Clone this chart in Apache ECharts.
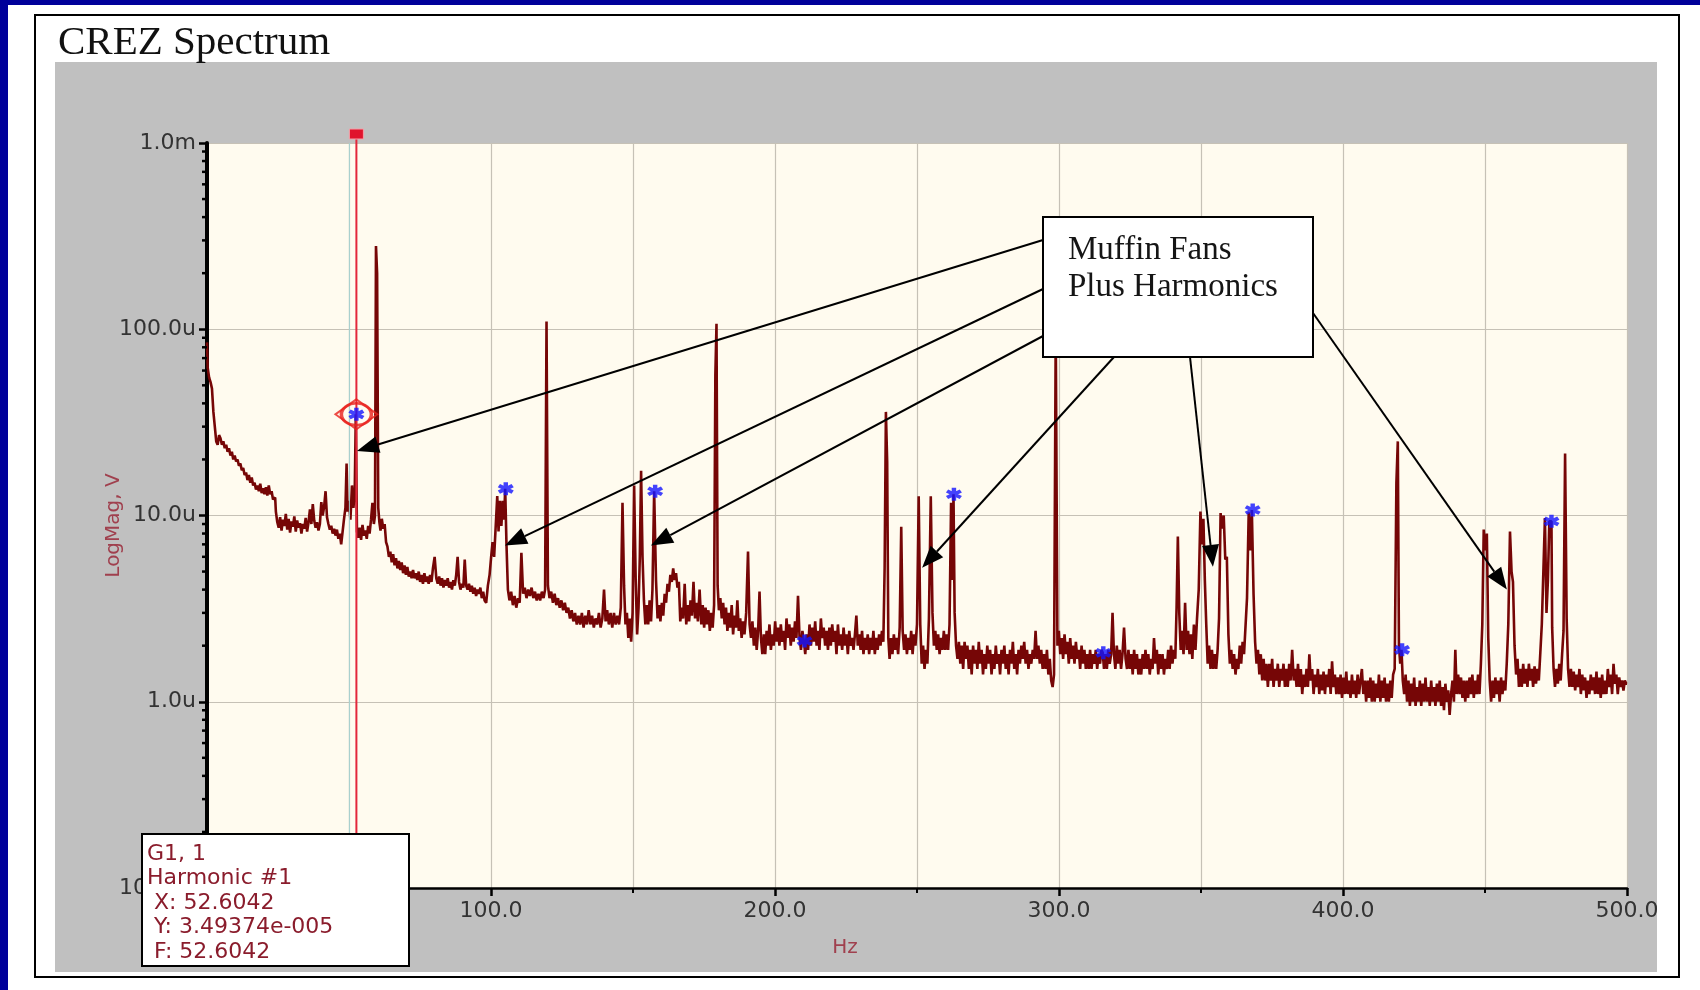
<!DOCTYPE html>
<html>
<head>
<meta charset="utf-8">
<script src="https://cdn.jsdelivr.net/npm/echarts@6/dist/echarts.min.js"></script>
<style>
  html, body { margin: 0; padding: 0; background: #ffffff; }
  #chart { width: 1700px; height: 990px; }
</style>
</head>
<body>
<div id="chart"></div>
<script>
// Spectrum samples: [frequency in Hz, magnitude in µV]
const spectrum = [
  [0,85],[0.5,62],[1,55],[1.5,52],[2,48],[2.5,36],[3,30],[3.5,25],[4,24],[4.5,27],[5,26],[5.5,24],[6,25],[6.5,23],[7,24],[7.5,22],[8,23],[8.5,21],[9,22],[9.5,20],
  [10,21],[10.5,19.5],[11,20],[11.5,18.5],[12,19],[12.5,17.5],[13,18],[13.5,16.5],[14,17],[14.5,15.5],[15,16.5],[15.5,15],[16,16],[16.5,14.5],[17,15],[17.5,13.8],[18,14.5],[18.5,13.5],[19,14.8],[19.5,13.2],
  [20,14],[20.5,13],[21,14.2],[21.5,12.8],[22,14.5],[22.5,13],[23,13.5],[23.5,12.2],[24,12.5],[24.5,10.5],[25,9.2],
  [25.5,8.6],[26,9.8],[26.5,8.3],[27,9.5],[27.5,8.8],[28,10.2],[28.5,8.4],[29,9.6],[29.5,8.1],[30,9.3],[30.5,8.7],[31,9.9],[31.5,8.2],[32,9.4],[32.5,8.6],[33,9.1],[33.5,8.0],[34,9.0],[34.5,8.5],[35,9.7],
  [35.5,8.2],[36,9.2],[36.5,10.8],[37,9.0],[37.5,11.5],[38,9.4],[38.5,8.6],[39,9.2],[39.5,8.3],[40,9.0],[40.5,11.8],[41,10.0],[41.5,11.2],[42,13.5],[42.5,9.8],[43,9.0],[43.5,8.4],[44,8.8],[44.5,8.0],[45,8.5],
  [45.5,7.8],[46,8.4],[46.5,7.5],[47,8.0],[47.5,7.0],[48,8.2],[48.5,9.6],[49,11],[49.3,19],[49.7,10.5],[50.2,12],[50.8,9.5],[51.3,14.5],[51.8,11],[52.2,13],[52.6042,34.9374],
  [53,8.2],[53.5,7.6],[54,8.6],[54.5,7.4],[55,8.9],[55.5,7.8],[56,8.3],[56.5,7.5],[57,8.8],[57.5,8.0],[58,9.5],[58.5,11.7],[59,9.0],[59.3,10],[59.7,280],[60.1,200],[60.5,11],
  [60.9,9.2],[61.3,8.3],[61.8,9.6],[62.3,8.5],[62.8,9.0],[63.3,7.2],[63.8,6.8],[64.3,6.0],[64.8,6.4],[65.3,5.6],[65.8,6.2],[66.3,5.4],[66.8,5.9],[67.3,5.2],[67.8,5.7],[68.3,5.1],[68.8,5.6],[69.3,4.9],[69.8,5.4],
  [70.3,4.8],[70.8,5.3],[71.3,4.7],[71.8,5.0],[72.3,4.6],[72.8,5.1],[73.3,4.6],[73.8,4.9],[74.3,4.5],[74.8,5.0],[75.3,4.4],[75.8,4.8],[76.3,4.3],[76.8,4.9],[77.3,4.4],[77.8,4.7],[78.3,4.3],[78.8,4.8],[79.3,4.4],[79.8,5.2],
  [80.5,6.0],[81,4.6],[81.5,4.3],[82,4.7],[82.5,4.2],[83,4.6],[83.5,4.1],[84,4.5],[84.5,4.2],[85,4.6],[85.5,4.1],[86,4.4],[86.5,4.0],[87,4.5],[87.5,4.2],[88,4.8],[88.5,6.0],[89,4.4],[89.5,4.0],[90,4.3],
  [90.5,4.1],[91,5.8],[91.5,4.2],[92,4.0],[92.5,4.3],[93,3.9],[93.5,4.2],[94,3.8],[94.5,4.1],[95,3.7],[95.5,4.0],[96,3.8],[96.5,4.1],[97,3.6],[97.5,3.9],[98,3.5],[98.6,3.4],[99.2,4.2],[99.8,4.8],
  [100.3,6.0],[100.8,7.2],[101.4,6.0],[102,9],[102.4,12.7],[102.9,8.2],[103.4,12.0],[103.9,8.8],[104.4,12.0],[104.8,9.5],[105.2,13.9],[105.7,7.0],[106.2,4.0],[106.8,3.5],[107.4,3.9],[108,3.3],[108.6,3.7],[109.2,3.2],[109.8,3.6],
  [110.4,3.4],[111,6.3],[111.6,3.8],[112.2,4.1],[112.8,3.6],[113.4,4.0],[114,3.7],[114.6,4.1],[115.2,3.6],[115.8,3.9],[116.4,3.5],[117,3.8],[117.6,3.5],[118.2,3.9],[118.8,3.6],[119.3,4.0],[119.8,110],[120.3,4.2],
  [120.9,3.6],[121.5,3.9],[122.1,3.4],[122.7,3.8],[123.3,3.3],[123.9,3.6],[124.5,3.2],[125.1,3.5],[125.7,3.1],[126.3,3.4],[126.9,3.0],[127.5,3.2],[128.1,2.8],[128.7,3.1],[129.3,2.7],[129.9,3.0],
  [130.5,2.6],[131.1,2.9],[131.7,2.6],[132.3,3.0],[132.9,2.5],[133.5,2.9],[134.1,2.6],[134.7,3.1],[135.3,2.6],[135.9,2.9],[136.5,2.5],[137.1,2.8],[137.7,2.6],[138.3,3.0],[138.9,2.5],[139.5,2.8],
  [140.1,4.0],[140.6,2.7],[141.2,3.1],[141.8,2.6],[142.4,3.0],[143,2.5],[143.6,3.0],[144.2,2.6],[144.8,2.9],[145.4,2.6],[146,3.2],[146.6,11.7],[147.1,4.2],[147.6,2.6],[148.1,3.0],[148.6,2.2],[149.1,2.8],[149.6,2.1],
  [150.1,3.0],[150.7,14.5],[151.2,4.5],[151.7,2.3],[152.2,3.2],[152.6,6],[153.1,17.4],[153.6,6.0],[154.1,3.5],[154.6,2.6],[155.1,3.3],[155.6,2.6],[156.1,3.5],[156.6,2.7],[157.1,4.0],[157.8,13.5],[158.4,4.5],[158.9,2.8],[159.4,3.3],[159.9,2.7],
  [160.4,3.4],[160.9,2.9],[161.4,3.8],[161.9,3.4],[162.4,4.3],[162.9,3.9],[163.4,4.8],[163.9,4.4],[164.4,5.2],[164.9,4.5],[165.4,4.9],[165.9,4.1],[166.4,4.4],[166.9,2.7],[167.4,3.2],[167.9,2.8],[168.5,4.3],[169,2.6],[169.5,3.3],
  [170,2.7],[170.5,3.5],[171,2.9],[171.6,4.4],[172.1,2.8],[172.6,3.4],[173.1,2.7],[173.8,4.0],[174.3,2.6],[174.8,3.3],[175.3,2.5],[175.8,3.2],[176.3,2.6],[176.8,3.1],[177.3,2.4],[177.8,3.0],[178.3,2.5],[178.8,3.3],[179.2,57],[179.6,107],
  [180.0,4.2],[180.5,3.1],[181,3.6],[181.5,2.8],[182,3.4],[182.5,2.6],[183,3.2],[183.5,2.4],[184,3.0],[184.5,2.5],[185,3.3],[185.5,2.3],[186,2.9],[186.5,2.5],[187,3.5],[187.5,2.4],[188,2.8],[188.5,2.2],[189,2.7],[189.5,2.3],
  [190.2,3.0],[190.8,6.4],[191.3,2.6],[191.8,2.2],[192.3,2.7],[192.8,2.0],[193.3,2.5],[193.8,1.9],[194.3,2.4],[194.8,3.9],[195.3,2.2],[195.8,1.8],[196.3,2.3],[196.8,1.8],[197.3,2.4],[197.8,2.0],[198.3,2.6],[198.8,1.9],[199.3,2.3],[199.8,2.0],
  [200.3,2.7],[200.8,2.1],[201.3,2.5],[201.8,2.0],[202.3,2.6],[202.8,2.1],[203.3,2.4],[203.8,1.9],[204.3,2.8],[204.8,2.2],[205.3,2.6],[205.8,2.0],[206.3,2.5],[206.8,2.1],[207.3,2.7],[207.8,2.2],[208.4,3.7],[208.9,2.2],[209.4,1.9],[209.9,2.4],
  [210.4,2.12],[210.9,1.8],[211.4,2.3],[211.9,1.9],[212.4,2.6],[212.9,2.0],[213.4,2.5],[213.9,2.1],[214.4,2.7],[214.9,2.0],[215.4,2.4],[215.9,1.9],[216.4,2.8],[216.9,2.2],[217.4,2.5],[217.9,2.0],[218.4,2.4],[218.9,1.9],[219.4,2.5],[219.9,2.0],
  [220.4,2.6],[220.9,2.1],[221.4,2.4],[221.9,1.8],[222.4,2.6],[222.9,2.0],[223.4,2.3],[223.9,1.9],[224.4,2.5],[224.9,2.0],[225.4,2.3],[225.9,1.8],[226.4,2.4],[226.9,2.0],[227.4,2.2],[227.9,1.9],[228.4,2.3],[228.9,2.9],[229.4,2.0],[229.9,2.3],
  [230.4,1.9],[230.9,2.4],[231.4,1.8],[231.9,2.2],[232.4,1.9],[232.9,2.3],[233.4,1.8],[233.9,2.2],[234.4,1.9],[234.9,2.4],[235.4,1.8],[235.9,2.2],[236.4,1.9],[236.9,2.3],[237.4,2.0],[237.9,2.4],[238.4,2.1],[238.8,5.2],[239.3,36],[239.7,19.4],
  [240.1,2.2],[240.6,1.7],[241.1,2.2],[241.6,1.8],[242.1,2.3],[242.6,1.9],[243.1,2.2],[243.6,1.8],[244.2,2.5],[244.7,8.7],[245.2,2.4],[245.7,1.9],[246.2,2.3],[246.7,1.8],[247.2,2.2],[247.7,1.9],[248.2,2.4],[248.7,1.8],[249.2,2.3],[249.7,2.0],
  [250.3,2.6],[250.9,12.7],[251.4,2.6],[251.9,1.6],[252.4,2.0],[252.9,1.5],[253.4,1.9],[253.9,1.6],[254.5,2.8],[255.2,12.7],[255.7,3.0],[256.2,2.0],[256.7,2.4],[257.2,1.9],[257.7,2.3],[258.2,1.8],[258.7,2.2],[259.2,1.9],[259.7,2.4],
  [260.2,1.9],[260.7,2.3],[261.2,1.9],[261.7,2.6],[262.3,11.7],[262.7,4.5],[263.0,13.0],[263.5,3.0],[264,2.0],[264.5,1.7],[265,2.1],[265.5,1.6],[266,2.0],[266.5,1.5],[267,2.1],[267.5,1.7],[268,2.0],[268.5,1.5],[269,1.9],[269.5,1.4],
  [270,2.0],[270.5,1.6],[271,1.9],[271.5,1.5],[272,2.1],[272.5,1.6],[273,1.9],[273.5,1.4],[274,1.8],[274.5,1.5],[275,2.0],[275.5,1.6],[276,1.9],[276.5,1.4],[277,1.8],[277.5,1.5],[278,2.0],[278.5,1.6],[279,1.8],[279.5,1.4],
  [280,1.9],[280.5,1.6],[281,2.0],[281.5,1.5],[282,1.8],[282.5,1.4],[283,1.9],[283.5,1.6],[284,2.1],[284.5,1.5],[285,1.8],[285.5,1.4],[286,1.9],[286.5,1.6],[287,2.0],[287.5,1.7],[288,2.1],[288.5,1.6],[289,1.9],[289.5,1.5],
  [290,1.8],[290.5,1.6],[291,1.9],[291.5,1.7],[292,2.4],[292.5,1.7],[293,2.0],[293.5,1.6],[294,1.9],[294.5,1.5],[295,1.8],[295.5,1.5],[296,1.9],[296.5,1.4],[297,1.7],[297.5,1.3],[298,1.2],[298.5,1.4],[299.2,100],[299.7,2.0],
  [300.2,2.4],[300.7,1.8],[301.2,2.2],[301.7,1.7],[302.2,2.3],[302.7,1.8],[303.2,2.1],[303.7,1.6],[304.2,2.2],[304.7,1.7],[305.2,2.0],[305.7,1.6],[306.2,2.1],[306.7,1.7],[307.2,1.9],[307.7,1.5],[308.2,2.0],[308.7,1.6],[309.2,1.9],[309.7,1.5],
  [310.2,1.8],[310.7,1.5],[311.2,1.9],[311.7,1.5],[312.2,1.8],[312.7,1.6],[313.2,1.9],[313.7,1.5],[314.2,1.8],[314.7,1.6],[315.2,1.9],[315.6,1.83],[316.1,1.5],[316.6,1.8],[317.1,1.5],[317.6,1.9],[318.1,1.6],[318.6,1.8],[319.1,3.0],[319.6,1.8],
  [320.1,1.5],[320.6,2.0],[321.1,1.6],[321.6,1.9],[322.1,1.5],[322.6,1.8],[323.2,2.5],[323.7,1.7],[324.2,1.5],[324.7,1.9],[325.2,1.5],[325.7,1.8],[326.2,1.4],[326.7,1.9],[327.2,1.5],[327.7,1.8],[328.2,1.4],[328.7,1.7],[329.2,1.4],[329.7,1.8],
  [330.2,1.5],[330.7,1.9],[331.2,1.5],[331.7,1.8],[332.2,1.4],[332.7,1.7],[333.2,1.5],[333.7,2.2],[334.2,1.6],[334.7,1.9],[335.2,1.4],[335.7,1.8],[336.2,1.5],[336.7,1.8],[337.2,1.4],[337.7,1.7],[338.2,1.5],[338.7,1.9],[339.2,1.5],[339.7,2.0],
  [340.2,1.6],[340.7,1.9],[341.2,1.7],[341.6,3.2],[342.1,7.7],[342.6,3.0],[343.1,1.9],[343.6,2.4],[344.1,1.8],[344.7,3.4],[345.2,1.9],[345.7,2.4],[346.2,1.8],[346.7,2.3],[347.2,1.7],[347.8,2.6],[348.3,1.9],[348.9,2.8],[349.5,4.0],
  [350.1,10.5],[350.6,7.0],[351.1,9.6],[351.6,4.5],[352.1,2.6],[352.6,1.6],[353.1,2.0],[353.6,1.5],[354.1,1.9],[354.6,1.5],[355.1,1.8],[355.6,1.5],[356.1,1.9],[356.6,2.8],[357.2,10.3],[357.7,8.5],[358.3,10.0],[358.8,5.8],[359.4,6.0],[359.9,2.3],
  [360.4,1.6],[360.9,1.9],[361.4,1.5],[361.9,1.8],[362.4,1.4],[362.9,1.7],[363.4,1.5],[363.9,2.0],[364.4,1.6],[364.9,2.1],[365.4,1.8],[365.9,2.5],[366.5,3.6],[367.1,10.4],[367.6,6.5],[368.2,10.7],[368.8,3.8],[369.3,2.1],[369.8,1.6],
  [370.3,1.9],[370.8,1.4],[371.3,1.8],[371.8,1.3],[372.3,1.7],[372.8,1.3],[373.3,1.6],[373.8,1.2],[374.3,1.6],[374.8,1.3],[375.3,1.7],[375.8,1.2],[376.3,1.5],[376.8,1.3],[377.3,1.6],[377.8,1.2],[378.3,1.5],[378.8,1.3],[379.3,1.6],[379.8,1.2],
  [380.3,1.5],[380.8,1.2],[381.3,1.6],[381.8,1.3],[382.4,1.9],[382.9,1.3],[383.4,1.5],[383.9,1.2],[384.4,1.6],[384.9,1.2],[385.4,1.5],[385.9,1.1],[386.4,1.4],[386.9,1.2],[387.4,1.5],[387.9,1.2],[388.4,1.8],[388.9,1.3],[389.4,1.5],[389.9,1.1],
  [390.4,1.4],[390.9,1.2],[391.4,1.5],[391.9,1.1],[392.4,1.4],[392.9,1.15],[393.4,1.45],[393.9,1.1],[394.4,1.4],[394.9,1.2],[395.4,1.5],[395.9,1.1],[396.4,1.65],[396.9,1.2],[397.4,1.4],[397.9,1.1],[398.4,1.35],[398.9,1.1],[399.4,1.4],[399.9,1.05],
  [400.4,1.35],[400.9,1.1],[401.4,1.45],[401.9,1.1],[402.4,1.3],[402.9,1.05],[403.4,1.4],[403.9,1.1],[404.4,1.3],[404.9,1.05],[405.4,1.4],[405.9,1.1],[406.4,1.3],[406.9,1.5],[407.4,1.1],[407.9,1.3],[408.4,1.0],[408.9,1.3],[409.4,1.05],[409.9,1.35],
  [410.4,1.0],[410.9,1.3],[411.4,1.0],[411.9,1.25],[412.4,1.05],[412.9,1.4],[413.4,1.0],[413.9,1.3],[414.4,1.05],[414.9,1.35],[415.4,1.0],[415.9,1.25],[416.4,1.0],[416.9,1.3],[417.4,1.05],[417.9,1.4],[418.5,1.5],[419.1,15],[419.5,25],[419.9,2.0],
  [420.4,1.6],[420.8,1.9],[421.3,1.3],[421.8,1.1],[422.3,1.4],[422.8,1.0],[423.3,1.3],[423.8,0.95],[424.3,1.25],[424.8,1.0],[425.3,1.35],[425.8,0.95],[426.3,1.2],[426.8,1.0],[427.3,1.3],[427.8,0.95],[428.3,1.25],[428.8,1.0],[429.3,1.35],[429.8,1.0],
  [430.3,1.2],[430.8,0.95],[431.3,1.3],[431.8,1.0],[432.3,1.2],[432.8,0.95],[433.3,1.25],[433.8,1.0],[434.3,1.3],[434.8,0.95],[435.3,1.2],[435.8,0.9],[436.3,1.25],[436.8,1.0],[437.3,1.15],[437.8,0.85],[438.3,1.1],[438.8,1.3],[439.3,1.0],[439.8,1.9],
  [440.3,1.1],[440.8,1.4],[441.3,1.1],[441.8,1.35],[442.3,1.05],[442.8,1.3],[443.3,1.0],[443.8,1.3],[444.3,1.05],[444.8,1.35],[445.3,1.1],[445.8,1.4],[446.3,1.05],[446.8,1.3],[447.3,1.1],[447.8,1.4],[448.3,1.1],[448.8,1.6],[449.3,2.6],[449.8,8.4],
  [450.4,6.5],[450.9,8.0],[451.4,2.2],[451.9,1.3],[452.4,1.0],[452.9,1.3],[453.4,1.05],[453.9,1.35],[454.4,1.1],[454.9,1.3],[455.4,1.0],[455.9,1.35],[456.4,1.1],[456.9,1.3],[457.4,1.15],[457.9,1.6],[458.5,2.6],[459.1,8.2],[459.6,5.0],
  [460.1,4.4],[460.7,2.0],[461.2,1.4],[461.7,1.7],[462.2,1.2],[462.7,1.5],[463.2,1.2],[463.7,1.6],[464.2,1.25],[464.7,1.5],[465.2,1.2],[465.7,1.6],[466.2,1.3],[466.7,1.5],[467.2,1.2],[467.7,1.55],[468.2,1.25],[468.7,1.5],[469.2,1.3],[469.7,1.8],
  [470.3,2.6],[470.8,5.0],[471.4,9.7],[471.9,3.0],[472.4,4.5],[472.9,9.3],[473.4,9.3],[473.9,2.5],[474.4,1.5],[474.9,1.2],[475.4,1.5],[475.9,1.25],[476.4,1.6],[476.9,1.3],[477.4,1.8],[477.9,2.4],[478.5,21.5],[479.0,2.8],[479.5,1.5],
  [480,1.2],[480.5,1.5],[481,1.2],[481.5,1.45],[482,1.15],[482.5,1.4],[483,1.2],[483.5,1.5],[484,1.1],[484.5,1.4],[485,1.15],[485.5,1.35],[486,1.05],[486.5,1.3],[487,1.1],[487.5,1.4],[488,1.15],[488.5,1.35],[489,1.1],[489.5,1.45],
  [490,1.1],[490.5,1.35],[491,1.05],[491.5,1.4],[492,1.1],[492.5,1.3],[493,1.1],[493.5,1.5],[494,1.2],[494.5,1.4],[495,1.1],[495.5,1.6],[496,1.25],[496.5,1.4],[497,1.1],[497.5,1.35],[498,1.2],[498.5,1.3],[499,1.15],[499.5,1.3],[500,1.25]
];

// Harmonic markers of the cursor fundamental
const harmonicHz = [52.6042, 105.2, 157.8, 210.4, 263.0, 315.6, 368.2, 420.8, 473.4];
const harmonicUV = [34.9374, 13.9, 13.5, 2.12, 13.0, 1.83, 10.7, 1.9, 9.3];

// Cursor readout
const cursorHz = 52.6042;
const cursorV = 3.49374e-5;
const cursorLines = ['G1, 1', 'Harmonic #1', ' X: 52.6042', ' Y: 3.49374e-005', ' F: 52.6042'];

// Axis tick labels and titles
const xTickValues = [0, 100, 200, 300, 400, 500];
const xTickLabels = ['0.0', '100.0', '200.0', '300.0', '400.0', '500.0'];
const yTickLabels = ['100.0n', '1.0u', '10.0u', '100.0u', '1.0m'];   // 0.1 µV ... 1000 µV
const xAxisTitle = 'Hz';
const yAxisTitle = 'LogMag, V';

// Annotation: callout text and the peaks it points at, [Hz, µV]
const noteLines = ['Muffin Fans', 'Plus Harmonics'];
const arrowTips = [[52.8, 22.2], [104.9, 6.9], [156.3, 6.9], [251.8, 5.24], [354.2, 5.3], [457.7, 4.0]];

const chart = echarts.init(document.getElementById('chart'), null, { renderer: 'canvas' });

const labelFont = 'DejaVu Sans';
const titleRed = '#a0404e';
const gridLine = { color: '#c6c1b6', width: 1.2 };
// heavy six-armed asterisk
const starPath = 'path://M3.6,0H6.4V10H3.6Z M-0.03,3.71L1.37,1.29L10.03,6.29L8.63,8.71Z M-0.03,6.29L8.63,1.29L10.03,3.71L1.37,8.71Z';

chart.setOption({
  animation: false,
  backgroundColor: '#ffffff',
  title: {
    text: 'CREZ Spectrum',
    left: 53, top: 18,
    textStyle: { fontFamily: 'Liberation Serif', fontSize: 41, fontWeight: 'normal', color: '#111111' }
  },
  grid: {
    left: 207, right: 73, top: 143, bottom: 102,
    show: true, backgroundColor: '#fffbef', borderWidth: 0
  },
  xAxis: {
    type: 'value', min: 0, max: 500, interval: 100,
    name: xAxisTitle, nameLocation: 'middle', nameGap: 50,
    nameTextStyle: { fontFamily: labelFont, fontSize: 20, color: titleRed, padding: [0, 144, 0, 0] },
    axisLine: { show: true, onZero: false, lineStyle: { color: '#000', width: 2.5 } },
    axisTick: { show: true, length: 8, lineStyle: { color: '#000', width: 2.5 } },
    minorTick: { show: true, splitNumber: 2, length: 5, lineStyle: { color: '#000', width: 2 } },
    axisLabel: {
      margin: 12, fontFamily: labelFont, fontSize: 22, color: '#333',
      formatter: v => xTickLabels[xTickValues.indexOf(Math.round(v))] || ''
    },
    splitLine: { show: true, lineStyle: gridLine },
    minorSplitLine: { show: true, lineStyle: gridLine }
  },
  yAxis: {
    type: 'log', logBase: 10, min: 0.1, max: 1000,
    axisLine: { show: true, lineStyle: { color: '#000', width: 4 } },
    axisTick: { show: true, length: 8, lineStyle: { color: '#000', width: 2.5 } },
    axisLabel: {
      margin: 11, fontFamily: labelFont, fontSize: 22, color: '#333',
      formatter: v => yTickLabels[Math.round(Math.log10(v)) + 1]
    },
    splitLine: { show: true, lineStyle: gridLine }
  },
  series: [
    {
      name: 'spectrum', type: 'line', data: spectrum, step: 'middle',
      showSymbol: false, silent: true, z: 2,
      lineStyle: { color: '#760606', width: 2.6 }
    },
    {
      name: 'cursor ring', type: 'scatter', silent: true, z: 5,
      data: [[cursorHz, cursorV * 1e6]],
      symbol: 'circle', symbolSize: [30, 22],
      itemStyle: { color: 'rgba(0,0,0,0)', borderColor: '#e8201c', borderWidth: 3 }
    },
    {
      name: 'cursor diamond', type: 'scatter', silent: true, z: 5,
      data: [[cursorHz, cursorV * 1e6]],
      symbol: 'diamond', symbolSize: [42, 30],
      itemStyle: { color: 'rgba(0,0,0,0)', borderColor: '#e8201c', borderWidth: 2 }
    },
    {
      name: 'harmonics', type: 'scatter', silent: true, z: 6,
      data: harmonicHz.map((h, i) => [h, harmonicUV[i]]),
      symbol: starPath, symbolSize: [16, 13],
      itemStyle: { color: '#1414ff' }
    }
  ]
});

// Overlays placed through the axes' own scales
const toPx = p => chart.convertToPixel({ gridIndex: 0 }, p);
const gridTop = 143, gridLeft = 207, gridBottom = 888;
const graphics = [];

// page edges, frame and panel
graphics.push({ type: 'rect', z: -2, shape: { x: 0, y: 0, width: 8, height: 990 }, style: { fill: '#00009a' } });
graphics.push({ type: 'rect', z: -2, shape: { x: 0, y: 0, width: 1700, height: 5 }, style: { fill: '#00009a' } });
graphics.push({ type: 'rect', z: -1, shape: { x: 55, y: 62, width: 1602, height: 910 }, style: { fill: '#c0c0c0' } });
graphics.push({ type: 'rect', z: 30, shape: { x: 35, y: 15, width: 1644, height: 962 }, style: { fill: null, stroke: '#000', lineWidth: 2 } });

// magnitude axis title, centred beside the plot
graphics.push({
  type: 'text', z: 5, x: 114, y: (gridTop + gridBottom) / 2 + 10, rotation: Math.PI / 2,
  style: { text: yAxisTitle, font: '20px "DejaVu Sans"', fill: titleRed, align: 'center', verticalAlign: 'middle' }
});

// log minor ticks on the magnitude axis
for (let d = -1; d < 3; d++) {
  for (let k = 2; k <= 9; k++) {
    const py = chart.convertToPixel({ yAxisIndex: 0 }, k * Math.pow(10, d));
    graphics.push({ type: 'line', z: 3, shape: { x1: gridLeft - 5, y1: py, x2: gridLeft, y2: py }, style: { stroke: '#000', lineWidth: 2.5 } });
  }
}

// cursor line with its handle
const cx = chart.convertToPixel({ xAxisIndex: 0 }, cursorHz);
const infoBox = { x: 142, y: 834, w: 267, h: 132 };
graphics.push({ type: 'line', z: 3, shape: { x1: cx - 7, y1: gridTop, x2: cx - 7, y2: infoBox.y }, style: { stroke: '#a6d2d2', lineWidth: 1 } });
graphics.push({ type: 'line', z: 3, shape: { x1: cx, y1: 131, x2: cx, y2: infoBox.y }, style: { stroke: '#e3263a', lineWidth: 2 } });
graphics.push({ type: 'rect', z: 3, shape: { x: cx - 7, y: 129, width: 14, height: 10 }, style: { fill: '#e0142c', stroke: '#f4a0a8', lineWidth: 1 } });

// callout box and arrows
const note = { x: 1043, y: 217, w: 270, h: 140 };
const tails = [[note.x, note.y + 23], [note.x, note.y + 72], [note.x, note.y + 119],
               [note.x + 71, note.y + note.h], [note.x + 147, note.y + note.h], [note.x + note.w, note.y + 96]];
arrowTips.forEach((tip, i) => {
  const [tx, ty] = toPx(tip);
  const [sx, sy] = tails[i];
  const len = Math.hypot(tx - sx, ty - sy);
  const ux = (tx - sx) / len, uy = (ty - sy) / len;
  const L = 22, W = 8.5;
  const bx = tx - ux * L, by = ty - uy * L;
  graphics.push({ type: 'line', z: 7, shape: { x1: sx, y1: sy, x2: bx, y2: by }, style: { stroke: '#000', lineWidth: 2 } });
  graphics.push({ type: 'polygon', z: 7, shape: { points: [[tx, ty], [bx - uy * W, by + ux * W], [bx + uy * W, by - ux * W]] }, style: { fill: '#000' } });
});
graphics.push({ type: 'rect', z: 20, shape: { x: note.x, y: note.y, width: note.w, height: note.h }, style: { fill: '#ffffff', stroke: '#000', lineWidth: 2 } });
noteLines.forEach((t, i) => {
  graphics.push({ type: 'text', z: 21, style: { x: note.x + 25, y: note.y + 33 + i * 37, text: t, font: '33px "Liberation Serif"', fill: '#151515', verticalAlign: 'middle' } });
});

// cursor readout box
graphics.push({ type: 'rect', z: 20, shape: { x: infoBox.x, y: infoBox.y, width: infoBox.w, height: infoBox.h }, style: { fill: '#ffffff', stroke: '#000', lineWidth: 2 } });
cursorLines.forEach((t, i) => {
  graphics.push({ type: 'text', z: 21, style: { x: infoBox.x + 5, y: infoBox.y + 20 + i * 24.5, text: t, font: '22px "DejaVu Sans"', fill: '#8a1c2c', verticalAlign: 'middle' } });
});

chart.setOption({ graphic: graphics });
</script>
</body>
</html>
